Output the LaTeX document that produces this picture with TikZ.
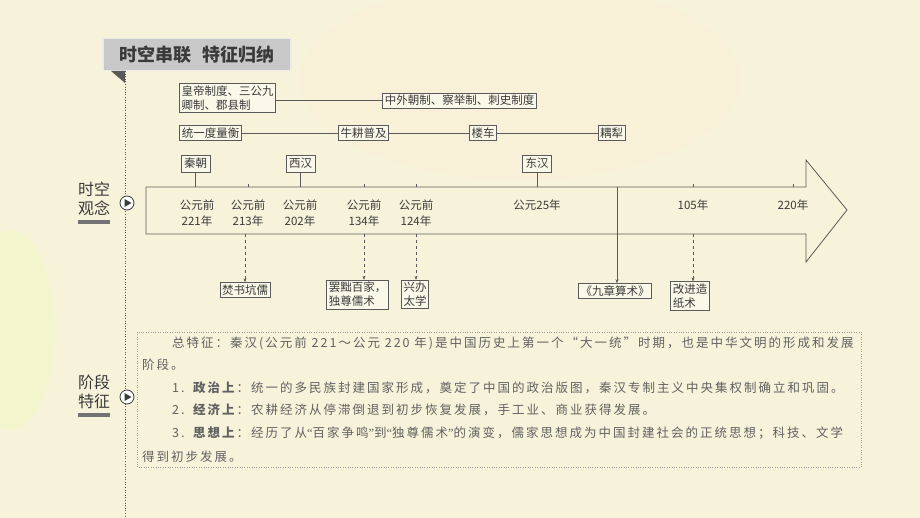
\documentclass[tikz,border=0pt]{standalone}
\usepackage{fontspec}
\setmainfont{Noto Sans CJK SC}
\newfontfamily\bodyfont[LetterSpace=16]{Noto Sans CJK SC}
\newfontfamily\narrowq{Liberation Serif}
\usepackage{xcolor}
\usetikzlibrary{positioning, arrows.meta}
\definecolor{paper}{HTML}{F7F3DA}
\definecolor{ink}{HTML}{3A3A3A}
\definecolor{frame}{HTML}{5A5A5A}
\definecolor{banner}{HTML}{C8C8C8}

\begin{document}
\begin{tikzpicture}[
  x=1pt, y=-1pt,
  evbox/.style={draw=frame, line width=0.6pt, fill=paper!60!white, inner sep=2pt,
    font=\fontsize{11.5}{14}\selectfont, text=ink, align=left},
  era/.style={evbox, minimum height=17pt, inner xsep=3pt},
  yr/.style={font=\fontsize{11.5}{16}\selectfont, text=ink, align=center},
  link/.style={draw=frame, line width=0.6pt},
  hop/.style={link, dashed, -{Stealth[length=4pt,width=3pt]}},
  side/.style={font=\fontsize{16}{19}\selectfont, text=ink, align=left},
  txt/.style={anchor=west, inner sep=0pt, font=\bodyfont\fontsize{12.5}{14}\selectfont, text=ink!80}
]
\fill[paper] (0,0) rectangle (920,518);
\useasboundingbox (0,0) rectangle (920,518);
\fill[orange!20, opacity=0.2] (520,80) ellipse (220pt and 100pt);
\fill[green!25!yellow!30, opacity=0.3] (10,330) ellipse (45pt and 100pt);

% banner
\node (title) [fill=banner, draw=white!92!black, line width=1.5pt, minimum width=188pt,
  minimum height=32pt, font=\fontsize{18}{20}\selectfont\bfseries, text=ink] at (197,54.5)
  {时空串联\hspace{0.6em}特征归纳};
\fill[gray!70!black] (111,71) -- (125,71) -- (125,83) -- cycle;
\draw[frame, dotted, line width=0.6pt] (125,71) -- (125,518);

% left labels
\node (sk) [side] at (94,199) {时空\\观念};
\fill[frame!85] (78,220) rectangle (110,224);
\node (skgo) [circle, draw=ink, fill=white, line width=0.8pt, minimum size=14pt, inner sep=0pt] at (127,203) {};
\fill[ink] (124.5,199) -- (131.5,203) -- (124.5,207) -- cycle;

\node (jd) [side] at (94,392) {阶段\\特征};
\fill[frame!85] (78,413) rectangle (110,417);
\node (jdgo) [circle, draw=ink, fill=white, line width=0.8pt, minimum size=14pt, inner sep=0pt] at (127,397) {};
\fill[ink] (124.5,393) -- (131.5,397) -- (124.5,401) -- cycle;

% top rows
\node (sys1) [evbox] at (227.5,98) {皇帝制度、三公九\\卿制、郡县制};
\node (sys2) [evbox] at (459.5,100.5) {中外朝制、察举制、刺史制度};
\draw[link] (sys1.east |- sys2.west) -- (sys2.west);

\node (dl) [evbox] at (210.5,133) {统一度量衡};
\node (ng) [evbox] at (363.5,133) {牛耕普及};
\node (lc) [evbox] at (483,133) {楼车};
\node (ol) [evbox] at (611.5,133) {耦犁};
\draw[link] (dl) -- (ng) -- (lc) -- (ol);

% timeline arrow
\draw[link, line width=0.8pt] (146,187) -- (806,187) -- (806,160) -- (847,210)
  -- (806,262) -- (806,234) -- (146,234) -- cycle;
\coordinate (bodyT) at (146,187);
\coordinate (bodyB) at (146,234);
\coordinate (split) at (617,187);    % Qin-Han / Eastern Han divide

\node (qin) [era] at (195.5,163.5) {秦朝};
\node (xihan) [era] at (300.5,163.5) {西汉};
\node (donghan) [era] at (537,163.5) {东汉};
\foreach \e in {qin,xihan,donghan}
  \draw[link] (\e) -- (\e |- bodyT);

\node (d221) [yr] at (197,213) {公元前\\221年};
\node (d213) [yr] at (248,213) {公元前\\213年};
\node (d202) [yr] at (300,213) {公元前\\202年};
\node (d134) [yr] at (364,213) {公元前\\134年};
\node (d124) [yr] at (416,213) {公元前\\124年};
\node (d25) [yr] at (537,205) {公元25年};
\node (d105) [yr] at (693,205) {105年};
\node (d220) [yr] at (793,205) {220年};
\foreach \d in {d213,d134,d124,d105,d220}
  \draw[link] (\d |- bodyT) -- ++(0,-3);

% events below
\node (fs) [evbox] at (245,290) {焚书坑儒};
\node (bc) [evbox] at (357.5,294.5) {罢黜百家，\\独尊儒术};
\node (tx) [evbox] at (415,294.5) {兴办\\太学};
\node (jz) [evbox] at (615,291) {《九章算术》};
\node (zz) [evbox] at (690,296) {改进造\\纸术};

\draw[hop] (fs |- bodyB) -- (fs.north);
\draw[hop] (d134 |- bodyB) -- (d134 |- bc.north);
\draw[hop] (d124 |- bodyB) -- (d124 |- tx.north);
\draw[link, -{Stealth[length=4pt,width=3pt]}] (split) -- (split |- jz.north);
\draw[hop] (d105 |- bodyB) -- (d105 |- zz.north);

% stage features
\draw[frame!60, dotted] (137,332) rectangle (861,467);
\node (txt1) [txt] at (172,343) {总特征：秦汉(公元前 221～公元 220 年)是中国历史上第一个“大一统”时期，也是中华文明的形成和发展};
\node (txt2) [txt] at (142,365) {阶段。};
\node (txt3) [txt] at (172,388) {1. \textbf{政治上}：统一的多民族封建国家形成，奠定了中国的政治版图，秦汉专制主义中央集权制确立和巩固。};
\node (txt4) [txt] at (172,410) {2. \textbf{经济上}：农耕经济从停滞倒退到初步恢复发展，手工业、商业获得发展。};
\node (txt5) [txt] at (172,433) {3. \textbf{思想上}：经历了从{\narrowq“}百家争鸣{\narrowq”}到{\narrowq“}独尊儒术{\narrowq”}的演变，儒家思想成为中国封建社会的正统思想；科技、文学};
\node (txt6) [txt] at (142,457) {得到初步发展。};
\end{tikzpicture}
\end{document}
